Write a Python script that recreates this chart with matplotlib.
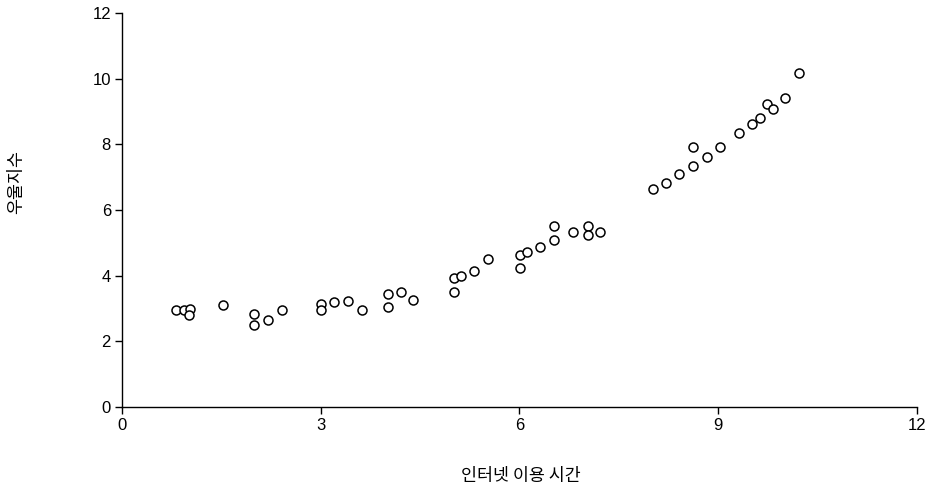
import matplotlib
matplotlib.use("Agg")
from matplotlib import pyplot as plt

# 인터넷 이용 시간 vs 우울지수
internet_hours = [0.82, 0.94, 1.03, 1.01, 1.52, 2.0, 2.0, 2.2, 2.42,
                  3.0, 3.0, 3.2, 3.41, 3.62, 4.02, 4.02, 4.21, 4.39,
                  5.01, 5.12, 5.01, 5.31, 5.52, 6.01, 6.11, 6.01, 6.31,
                  6.52, 6.52, 6.81, 7.03, 7.03, 7.22,
                  8.01, 8.21, 8.41, 8.62, 8.62, 8.83, 9.02, 9.31, 9.51,
                  9.63, 9.73, 9.82, 10.01, 10.22]
depression = [2.95, 2.95, 2.98, 2.80, 3.10, 2.83, 2.50, 2.65, 2.95,
              3.14, 2.95, 3.20, 3.23, 2.95, 3.44, 3.05, 3.50, 3.26,
              3.93, 3.99, 3.50, 4.14, 4.51, 4.63, 4.72, 4.23, 4.87,
              5.09, 5.51, 5.33, 5.51, 5.24, 5.33,
              6.65, 6.83, 7.10, 7.35, 7.91, 7.61, 7.92, 8.34, 8.61,
              8.79, 9.24, 9.09, 9.41, 10.16]

x_ticks = [0, 3, 6, 9, 12]
y_ticks = [0, 2, 4, 6, 8, 10, 12]

plt.rcParams['font.family'] = ['Liberation Sans', 'DejaVu Sans']

fig = plt.figure(figsize=(9.29, 4.9), dpi=100)
ax = fig.add_axes([122 / 929, 1 - 407 / 490, 795 / 929, 394 / 490])

ax.scatter(internet_hours, depression, s=42, facecolors='white',
           edgecolors='black', linewidths=1.1, zorder=3)

ax.set_xlim(0, 12)
ax.set_ylim(0, 12)
ax.set_xticks(x_ticks)
ax.set_yticks(y_ticks)
ax.tick_params(direction='out', length=5, width=1, labelsize=12, pad=3, colors='black')
for side in ['top', 'right']:
    ax.spines[side].set_visible(False)
for side in ['left', 'bottom']:
    ax.spines[side].set_linewidth(1)

fig.text(521 / 929, 1 - 476 / 490, '인터넷 이용 시간', ha='center', va='center',
         fontsize=12.5, family=['Noto Sans CJK KR', 'DejaVu Sans'])
fig.text(16 / 929, 1 - 182 / 490, '우울지수', ha='center', va='center',
         rotation=90, fontsize=12.5, family=['Noto Sans CJK KR', 'DejaVu Sans'])

plt.savefig('out.png', dpi=100)
